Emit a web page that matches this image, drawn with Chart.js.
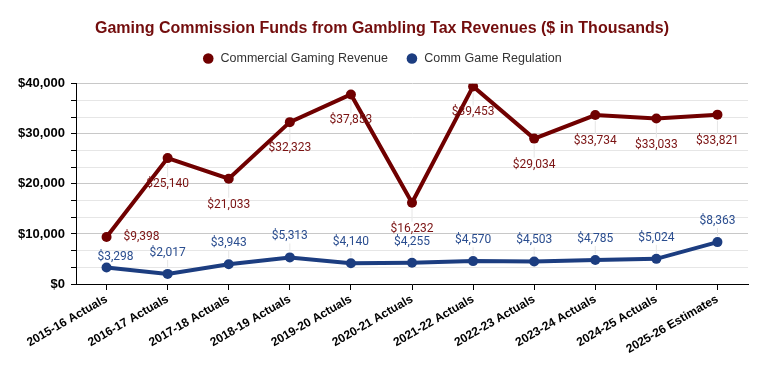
<!DOCTYPE html>
<html>
<head>
<meta charset="utf-8">
<script src="https://cdn.jsdelivr.net/npm/chart.js@4/dist/chart.umd.min.js"></script>
<style>
  html, body { margin: 0; padding: 0; background: #fff; }
  #wrap { width: 767px; height: 371px; position: relative; }
</style>
</head>
<body>
<div id="wrap"><canvas id="chart"></canvas></div>
<script>
// Données (milliers de $)
const years = ['2015-16 Actuals', '2016-17 Actuals', '2017-18 Actuals', '2018-19 Actuals',
  '2019-20 Actuals', '2020-21 Actuals', '2021-22 Actuals', '2022-23 Actuals',
  '2023-24 Actuals', '2024-25 Actuals', '2025-26 Estimates'];
const gamingRevenue = [9398, 25140, 21033, 32323, 37853, 16232, 39453, 29034, 33734, 33033, 33821];
const gameRegulation = [3298, 2017, 3943, 5313, 4140, 4255, 4570, 4503, 4785, 5024, 8363];

const RED = '#700000';
const BLUE = '#1c3d80';

const fmt = v => '$' + Math.round(v).toLocaleString('en-US');

// Étiquettes de valeur dessinées à la main (pas de plugin datalabels)
const valueLabels = {
  id: 'valueLabels',
  afterDatasetsDraw(chart) {
    const ctx = chart.ctx;
    ctx.save();
    ctx.font = '12px Roboto';
    ctx.textAlign = 'center';
    ctx.textBaseline = 'middle';
    chart.data.datasets.forEach((ds, di) => {
      const meta = chart.getDatasetMeta(di);
      const below = di === 0;
      meta.data.forEach((pt, i) => {
        let dx = 0, dy = below ? 26 : -21;
        // premier point : décalé pour éviter le chevauchement
        if (i === 0) { dx = below ? 35 : 9; dy = below ? 0 : -10; }
        if (dx === 0) {
          ctx.strokeStyle = '#e6e6e6';
          ctx.lineWidth = 1;
          ctx.beginPath();
          ctx.moveTo(pt.x, pt.y + (below ? 6 : -6));
          ctx.lineTo(pt.x, pt.y + dy + (below ? -7 : 7));
          ctx.stroke();
        }
        ctx.fillStyle = below ? '#7a1212' : '#2a4d8f';
        ctx.fillText(fmt(ds.data[i]), pt.x + dx, pt.y + dy);
      });
    });
    ctx.restore();
  }
};

// Un peu plus d'espace sous la légende
const legendGap = {
  id: 'legendGap',
  afterInit(chart) {
    const lg = chart.legend;
    if (!lg) return;
    const fit = lg.fit;
    lg.fit = function () { fit.call(this); this.height += 9; };
  }
};

new Chart(document.getElementById('chart'), {
  type: 'line',
  data: {
    labels: years,
    datasets: [
      {
        label: 'Commercial Gaming Revenue',
        data: gamingRevenue,
        borderColor: RED,
        backgroundColor: RED,
        pointBackgroundColor: RED,
        borderWidth: 4,
        pointRadius: 5,
        pointBorderWidth: 0,
        tension: 0,
      },
      {
        label: 'Comm Game Regulation',
        data: gameRegulation,
        borderColor: BLUE,
        backgroundColor: BLUE,
        pointBackgroundColor: BLUE,
        borderWidth: 4,
        pointRadius: 5,
        pointBorderWidth: 0,
        tension: 0,
      },
    ],
  },
  options: {
    responsive: true,
    maintainAspectRatio: false,
    animation: false,
    layout: { padding: { left: 16, right: 19, top: 0, bottom: 0 } },
    plugins: {
      title: {
        display: true,
        text: 'Gaming Commission Funds from Gambling Tax Revenues ($ in Thousands)',
        color: '#730d0d',
        font: { family: 'Liberation Sans', size: 16, weight: 'bold' },
        padding: { top: 19, bottom: -4 },
      },
      legend: {
        display: true,
        labels: {
          usePointStyle: true,
          pointStyle: 'circle',
          boxWidth: 12,
          boxHeight: 7.5,
          color: '#333',
          font: { family: 'Liberation Sans', size: 12.5 },
          padding: 18,
        },
      },
      tooltip: { enabled: false },
    },
    scales: {
      x: {
        offset: true,
        grid: { display: true, drawOnChartArea: false, tickLength: 6, tickColor: '#000', offset: false },
        border: { color: '#000', width: 1 },
        ticks: {
          color: '#000',
          font: { family: 'Liberation Sans', size: 12, weight: 'bold' },
          minRotation: 30,
          maxRotation: 30,
          autoSkip: false,
          padding: 2,
        },
        afterFit(scale) { scale.height = 87; },
      },
      y: {
        min: 0,
        max: 40000,
        grid: {
          color: c => (Math.round(c.tick.value) % 10000 === 0 ? '#c8c8c8' : '#e6e6e6'),
          tickColor: '#000',
          tickLength: 5,
        },
        border: { color: '#000', width: 1 },
        ticks: {
          stepSize: 10000 / 3,
          autoSkip: false,
          color: '#000',
          font: { family: 'Liberation Sans', size: 13, weight: 'bold' },
          padding: 6,
          callback: v => (Math.round(v) % 10000 === 0 ? fmt(v) : ''),
        },
        afterFit(scale) { scale.width = 60; },
      },
    },
  },
  plugins: [valueLabels, legendGap],
});
</script>
</body>
</html>
